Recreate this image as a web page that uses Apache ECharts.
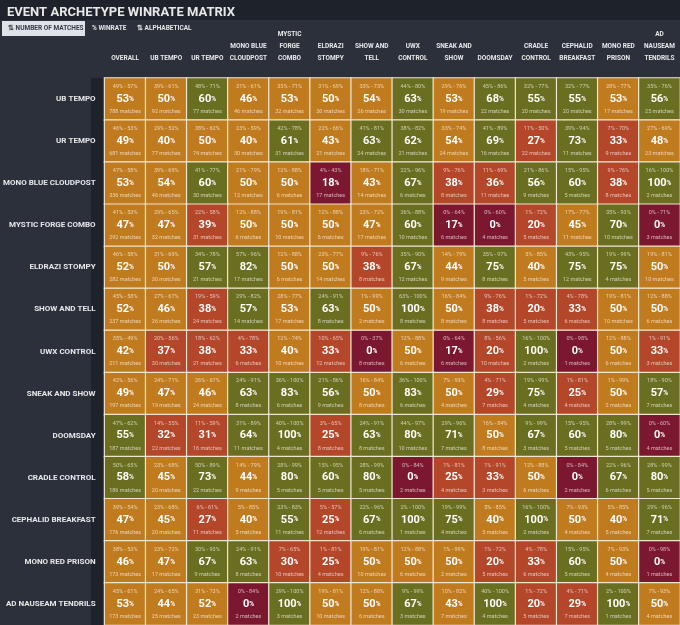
<!DOCTYPE html>
<html><head><meta charset="utf-8">
<script src="https://cdn.jsdelivr.net/npm/echarts@6/dist/echarts.min.js"></script>
<style>html,body{margin:0;padding:0;background:#1e222a;}#c{width:680px;height:625px;}</style>
</head><body><div id="c"></div>
<script>
const columns = ["OVERALL","UB TEMPO","UR TEMPO","MONO BLUE CLOUDPOST","MYSTIC FORGE COMBO","ELDRAZI STOMPY","SHOW AND TELL","UWX CONTROL","SNEAK AND SHOW","DOOMSDAY","CRADLE CONTROL","CEPHALID BREAKFAST","MONO RED PRISON","AD NAUSEAM TENDRILS"];
const columnLabels = ["OVERALL","UB TEMPO","UR TEMPO","MONO BLUE\nCLOUDPOST","MYSTIC\nFORGE\nCOMBO","ELDRAZI\nSTOMPY","SHOW AND\nTELL","UWX\nCONTROL","SNEAK AND\nSHOW","DOOMSDAY","CRADLE\nCONTROL","CEPHALID\nBREAKFAST","MONO RED\nPRISON","AD\nNAUSEAM\nTENDRILS"];
const rows = ["UB TEMPO","UR TEMPO","MONO BLUE CLOUDPOST","MYSTIC FORGE COMBO","ELDRAZI STOMPY","SHOW AND TELL","UWX CONTROL","SNEAK AND SHOW","DOOMSDAY","CRADLE CONTROL","CEPHALID BREAKFAST","MONO RED PRISON","AD NAUSEAM TENDRILS"];
// each cell: [low%, high%, winrate%, matches]
const ubTempo = [[49,57,53,788],[39,61,50,92],[48,71,60,77],[31,61,46,46],[35,71,53,32],[31,69,50,30],[33,73,54,26],[44,80,63,30],[29,76,53,19],[45,86,68,22],[32,77,55,20],[32,77,55,20],[28,77,53,17],[35,76,56,25]];
const urTempo = [[46,53,49,681],[29,52,40,77],[38,62,50,74],[23,59,40,30],[42,78,61,31],[22,66,43,21],[41,81,63,24],[38,82,62,21],[33,74,54,24],[41,89,69,16],[11,50,27,22],[39,94,73,11],[7,70,33,9],[27,69,48,23]];
const monoBlue = [[47,58,53,336],[39,69,54,46],[41,77,60,30],[21,79,50,12],[12,88,50,6],[4,43,18,17],[18,71,43,14],[22,96,67,6],[9,76,38,8],[11,69,36,11],[21,86,56,9],[15,95,60,5],[9,76,38,8],[16,100,100,2]];
const mysticForge = [[41,53,47,292],[29,65,47,32],[22,58,39,31],[12,88,50,6],[19,81,50,10],[12,88,50,6],[23,72,47,17],[26,88,60,10],[0,64,17,6],[0,60,0,4],[1,72,20,5],[17,77,45,11],[35,93,70,10],[0,71,0,3]];
const eldrazi = [[46,58,52,282],[31,69,50,30],[34,78,57,21],[57,96,82,17],[12,88,50,6],[23,77,50,14],[9,76,38,8],[35,90,67,12],[14,79,44,9],[35,97,75,8],[5,85,40,5],[43,95,75,12],[19,99,75,4],[19,81,50,10]];
const showTell = [[45,58,52,237],[27,67,46,26],[19,59,38,24],[29,82,57,14],[28,77,53,17],[24,91,63,8],[1,99,50,2],[63,100,100,8],[16,84,50,8],[9,76,38,8],[1,72,20,5],[4,78,33,6],[19,81,50,10],[12,88,50,6]];
const uwx = [[35,49,42,211],[20,56,37,30],[18,62,38,21],[4,78,33,6],[12,74,40,10],[10,65,33,12],[0,37,0,8],[12,88,50,6],[0,64,17,6],[8,56,20,10],[16,100,100,2],[0,98,0,1],[12,88,50,6],[1,91,33,3]];
const sneakShow = [[42,56,49,197],[24,71,47,19],[26,67,46,24],[24,91,63,8],[36,100,83,6],[21,86,56,9],[16,84,50,8],[36,100,83,6],[7,93,50,4],[4,71,29,7],[19,99,75,4],[1,81,25,4],[1,99,50,2],[18,90,57,7]];
const doomsday = [[47,62,55,187],[14,55,32,22],[11,59,31,16],[31,89,64,11],[40,100,100,4],[3,65,25,8],[24,91,63,8],[44,97,80,10],[29,96,71,7],[16,84,50,8],[9,99,67,3],[15,95,60,5],[28,99,80,5],[0,60,0,4]];
const cradle = [[50,65,58,186],[23,68,45,20],[50,89,73,22],[14,79,44,9],[28,99,80,5],[15,95,60,5],[28,99,80,5],[0,84,0,2],[1,81,25,4],[1,91,33,3],[12,88,50,6],[0,84,0,2],[22,96,67,6],[28,99,80,5]];
const cephalid = [[39,54,47,176],[23,68,45,20],[6,61,27,11],[5,85,40,5],[23,83,55,11],[5,57,25,12],[22,96,67,6],[2,100,100,1],[19,99,75,4],[5,85,40,5],[16,100,100,2],[7,93,50,4],[5,85,40,5],[29,96,71,7]];
const monoRed = [[38,53,46,173],[23,72,47,17],[30,93,67,9],[24,91,63,8],[7,65,30,10],[1,81,25,4],[19,81,50,10],[12,88,50,6],[1,99,50,2],[1,72,20,5],[4,78,33,6],[15,95,60,5],[7,93,50,4],[0,98,0,1]];
const adNauseam = [[45,61,53,173],[24,65,44,25],[31,73,52,23],[0,84,0,2],[29,100,100,3],[19,81,50,10],[12,88,50,6],[9,99,67,3],[10,82,43,7],[40,100,100,4],[1,72,20,5],[4,71,29,7],[2,100,100,1],[7,93,50,4]];
const matrix = [ubTempo,urTempo,monoBlue,mysticForge,eldrazi,showTell,uwx,sneakShow,doomsday,cradle,cephalid,monoRed,adNauseam];
const tabs = ["NUMBER OF MATCHES","% WINRATE","ALPHABETICAL"];

const data = [];
matrix.forEach((row, r) => row.forEach((c, x) => data.push({value:[x, r, c[2]], lo:c[0], hi:c[1], n:c[3]})));

const chart = echarts.init(document.getElementById('c'));
const F = 'Roboto, "Noto Sans", sans-serif';
chart.setOption({
  backgroundColor: '#1e222a',
  animation: false,
  title: {text: 'EVENT ARCHETYPE WINRATE MATRIX', left: 2, top: 1,
    textStyle: {color: '#e8e8e8', fontSize: 13, fontWeight: 'bold', fontFamily: F}},
  graphic: [
    {type:'rect', shape:{x:0,y:20,width:680,height:58}, style:{fill:'#2b303b'}, z:-10},
    {type:'rect', shape:{x:0,y:78,width:91,height:547}, style:{fill:'#2b303b'}, z:-10},
    {type:'rect', shape:{x:2,y:21,width:83,height:15}, style:{fill:'#dfe2e7'}, z:-5},
    {type:'text', x:8, y:25, style:{text:'⇅ ' + tabs[0], fill:'#333a46', font:'bold 6.5px ' + F}},
    {type:'text', x:92, y:25, style:{text:tabs[1], fill:'#e6e6e6', font:'bold 6.5px ' + F}},
    {type:'text', x:137, y:25, style:{text:'⇅ ' + tabs[2], fill:'#e6e6e6', font:'bold 6.5px ' + F}}
  ],
  grid: {left: 91, right: 0, top: 78, bottom: 0},
  xAxis: {type:'category', data: columns, position:'top', axisLine:{show:false}, axisTick:{show:false}, splitLine:{show:false},
    axisLabel: {interval:0, color:'#e8e8e8', fontSize:6.5, fontWeight:'bold', fontFamily:F, lineHeight:12, margin:14,
      formatter: (v, i) => columnLabels[i]}},
  yAxis: {type:'category', data: rows, inverse:true, axisLine:{show:false}, axisTick:{show:false},
    axisLabel: {color:'#e8e8e8', fontSize:8, fontWeight:'bold', fontFamily:F, margin:9}},
  visualMap: {show:false, type:'piecewise', dimension:2, pieces:[
    {gte:0, lt:20, color:'#7c1730'},
    {gte:20, lt:40, color:'#b4462a'},
    {gte:40, lt:55, color:'#c17b1f'},
    {gte:55, lte:100, color:'#6a6e20'}]},
  series: [{type:'heatmap', data: data,
    itemStyle:{borderColor:'#efe6d0', borderWidth:1.2},
    label:{show:true, fontFamily:F, formatter: p => '{r|' + p.data.lo + '% - ' + p.data.hi + '%}\n{w|' + p.value[2] + '}{p|%}\n{n|' + p.data.n + ' matches}',
      rich:{
        r:{fontSize:5.5, color:'rgba(255,255,255,0.65)', lineHeight:11, fontFamily:F},
        w:{fontSize:11, fontWeight:'bold', color:'#ffffff', lineHeight:14, fontFamily:F},
        p:{fontSize:6.5, fontWeight:'bold', color:'#ffffff', lineHeight:14, fontFamily:F},
        n:{fontSize:5.5, color:'rgba(255,255,255,0.65)', lineHeight:11, fontFamily:F}}}
  }]
});
</script></body></html>
